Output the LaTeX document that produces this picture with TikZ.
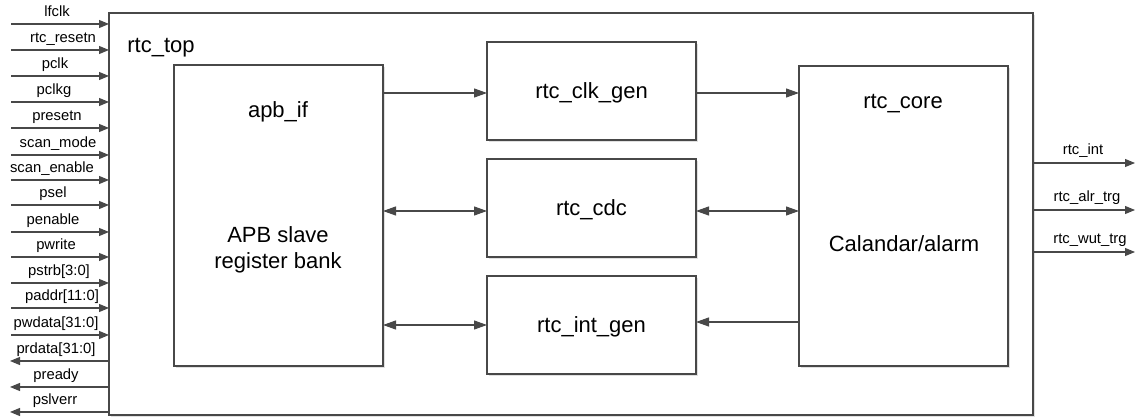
\documentclass[tikz,border=0pt]{standalone}
\usepackage{fontspec}
\setmainfont{Liberation Sans}
\usetikzlibrary{arrows.meta,shadows}
\definecolor{lc}{RGB}{72,72,72}
\begin{document}
\begin{tikzpicture}[x=1pt,y=-1pt,
  box/.style={draw=lc, line width=1.1pt, fill=white, inner sep=0pt, outer sep=0pt,
    general shadow={fill=black!12, shadow xshift=2pt, shadow yshift=-2pt}},
  big/.style={font=\fontsize{22}{25}\selectfont, inner sep=0pt},
  sig/.style={font=\fontsize{14.8}{17}\selectfont, inner sep=0pt},
  arr/.style={draw=lc, line width=1.1pt, -{Triangle[length=10pt,width=8pt]}},
  iarr/.style={draw=lc, line width=1.1pt, -{Triangle[length=13pt,width=9pt]}},
  biarr/.style={draw=lc, line width=1.1pt, {Triangle[length=13pt,width=9pt]}-{Triangle[length=13pt,width=9pt]}}
]
\useasboundingbox (0,0) rectangle (1144,419);

% boxes
\node[box, minimum width=924pt, minimum height=402pt] (top) at (571,214) {};
\node[box, minimum width=209pt, minimum height=301pt] (apb) at (278.5,215.5) {};
\node[box, big, text depth=0pt, minimum width=209pt, minimum height=98pt] (clk) at (591.5,91) {rtc\_clk\_gen};
\node[box, big, text depth=0pt, minimum width=209pt, minimum height=98pt] (cdc) at (591.5,208) {rtc\_cdc};
\node[box, big, text depth=0pt, minimum width=209pt, minimum height=98pt] (intg) at (591.5,325) {rtc\_int\_gen};
\node[box, minimum width=209pt, minimum height=300pt] (core) at (903.5,216) {};

% texts
\node[big, anchor=base] (toplbl) at (161,53) {rtc\_top};
\node[big, anchor=base] (apbname) at (278,118) {apb\_if};
\node[big, anchor=base] (apbdesc1) at (278,243) {APB slave};
\node[big, anchor=base] (apbdesc2) at (278,269) {register bank};
\node[big, anchor=base] (corename) at (903,109) {rtc\_core};
\node[big, anchor=base] (coredesc) at (904,252) {Calandar/alarm};

% internal connectors
\coordinate (c1) at ([yshift=-2pt]clk.west);
\coordinate (c2) at ([yshift=-3pt]cdc.west);
\coordinate (c3) at ([yshift=3pt]intg.east);
\draw[iarr] (apb.east |- c1) -- (c1);
\draw[iarr] (clk.east |- c1) -- (core.west |- c1);
\draw[biarr] (apb.east |- c2) -- (c2);
\draw[biarr] (cdc.east |- c2) -- (core.west |- c2);
\draw[biarr] (apb.east |- intg.west) -- (intg.west);
\draw[iarr] (core.west |- c3) -- (c3);

% left inputs
\foreach \y/\t/\x [count=\i] in {24/lfclk/57, 50/rtc\_resetn/63, 76/pclk/55, 102/pclkg/54,
  128/presetn/57, 155/scan\_mode/58, 180/scan\_enable/52, 205/psel/53, 232/penable/53,
  257/pwrite/56, 283/{pstrb[3:0]}/59, 308/{paddr[11:0]}/62, 335/{pwdata[31:0]}/56} {
  \coordinate (in\i) at (11,\y);
  \node[sig, anchor=base] (lin\i) at (\x,{\y-7.5}) {\t};
  \draw[arr] (in\i) -- (top.west |- in\i);
}
% left outputs
\foreach \y/\t/\x [count=\i] in {361/{prdata[31:0]}/56, 387/pready/56, 412/pslverr/55} {
  \coordinate (out\i) at (10,\y);
  \node[sig, anchor=base] (lout\i) at (\x,{\y-7.5}) {\t};
  \draw[arr] (top.west |- out\i) -- (out\i);
}
% right outputs
\foreach \y/\t/\x [count=\i] in {163/rtc\_int/1083, 210/rtc\_alr\_trg/1087, 252/rtc\_wut\_trg/1090} {
  \coordinate (rout\i) at (1135,\y);
  \node[sig, anchor=base] (rlbl\i) at (\x,{\y-8}) {\t};
  \draw[arr] (top.east |- rout\i) -- (rout\i);
}
\end{tikzpicture}
\end{document}
